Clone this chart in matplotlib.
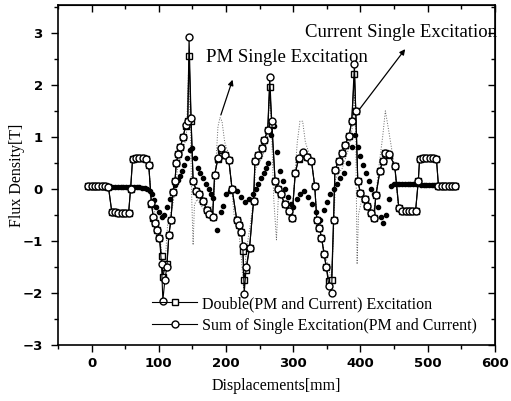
import matplotlib.pyplot as plt
from matplotlib.ticker import MultipleLocator, NullFormatter

# Double (PM and Current) excitation - squares
double_x = [-5, 0, 5, 10, 15, 20, 25, 30, 35, 40, 45, 50, 55, 58, 61, 66, 71, 76, 81, 85,
            89, 92, 95, 98, 101, 104, 106, 109, 112, 115, 118, 121, 124, 126, 129, 132, 136, 140, 143, 145, 148,
            151, 156, 160, 166, 171, 175, 180, 183, 188, 193, 198, 204, 209, 216, 220, 223, 225, 227, 230, 235, 241,
            243, 248, 253, 257, 262, 265, 268, 273, 278, 282, 287, 293, 298, 303, 308, 314, 320, 327,
            332, 335, 339, 342, 346, 349, 353, 357, 360, 362, 368, 373, 377, 383, 387, 391, 393,
            396, 400, 406, 410, 415, 420, 423, 429, 433, 437, 443, 451, 457, 462, 467, 472, 477, 482, 486,
            488, 493, 498, 503, 508, 513, 516, 521, 526, 531, 536, 541]
double_y = [0.05, 0.05, 0.06, 0.06, 0.05, 0.05, 0.04, -0.44, -0.45, -0.46, -0.46, -0.47, -0.47, 0.0, 0.58, 0.6, 0.6, 0.6, 0.58, 0.46,
            -0.3, -0.56, -0.66, -0.8, -0.95, -1.3, -1.7, -1.5, -1.45, -0.88, -0.6, -0.06, 0.15, 0.5, 0.68, 0.8, 1.0, 1.2, 1.3, 2.55, 1.3,
            0.15, -0.04, -0.1, -0.23, -0.4, -0.48, -0.55, 0.27, 0.58, 0.75, 0.66, 0.56, 0.0, -0.6, -0.7, -0.82, -1.2, -1.75, -1.56, -1.13, -0.23,
            0.54, 0.66, 0.79, 0.94, 1.13, 1.95, 1.25, 0.15, 0.0, -0.1, -0.3, -0.43, -0.56, 0.3, 0.58, 0.68, 0.62, 0.54,
            0.05, -0.6, -0.75, -0.94, -1.26, -1.5, -1.77, -1.75, -0.6, 0.37, 0.54, 0.69, 0.85, 1.02, 1.3, 2.2, 1.5,
            0.15, -0.08, -0.2, -0.33, -0.46, -0.56, -0.12, 0.35, 0.54, 0.69, 0.66, 0.44, -0.36, -0.42, -0.43, -0.43, -0.42, -0.42, 0.15,
            0.58, 0.6, 0.6, 0.6, 0.59, 0.58, 0.06, 0.05, 0.05, 0.05, 0.05, 0.05]

# Sum of single excitation (PM and Current) - circles
sum_x = double_x
sum_y = [0.05, 0.05, 0.06, 0.06, 0.05, 0.05, 0.04, -0.44, -0.45, -0.46, -0.46, -0.47, -0.47, 0.0, 0.58, 0.6, 0.6, 0.6, 0.58, 0.46,
         -0.28, -0.55, -0.66, -0.8, -0.95, -1.45, -2.15, -1.75, -1.5, -0.88, -0.6, -0.06, 0.15, 0.5, 0.68, 0.8, 1.0, 1.22, 1.3, 2.92, 1.37,
         0.15, -0.04, -0.1, -0.23, -0.4, -0.48, -0.55, 0.27, 0.6, 0.79, 0.66, 0.56, 0.0, -0.6, -0.7, -0.82, -1.1, -2.02, -1.5, -1.13, -0.23,
         0.54, 0.66, 0.79, 0.94, 1.13, 2.15, 1.3, 0.15, 0.0, -0.1, -0.3, -0.43, -0.56, 0.3, 0.6, 0.7, 0.62, 0.54,
         0.05, -0.6, -0.75, -0.94, -1.26, -1.5, -1.87, -2.0, -0.6, 0.37, 0.54, 0.69, 0.85, 1.02, 1.3, 2.4, 1.5,
         0.15, -0.08, -0.2, -0.33, -0.46, -0.56, -0.12, 0.35, 0.54, 0.69, 0.68, 0.44, -0.36, -0.42, -0.43, -0.43, -0.42, -0.42, 0.15,
         0.58, 0.6, 0.6, 0.6, 0.59, 0.58, 0.06, 0.05, 0.05, 0.05, 0.05, 0.05]

# PM single excitation - thin dotted line
pm_x = [85, 89, 93, 97, 101, 104, 107, 110, 113, 117, 121, 125, 129, 133, 137, 141, 144, 147, 149, 151, 153, 157,
        162, 167, 172, 177, 181, 184, 188, 191, 194, 198, 203, 207, 212, 217, 222, 226, 230, 236, 241, 244, 249,
        254, 258, 262, 265, 268, 271, 275, 278, 283, 288, 293, 298, 302, 306, 310, 314, 318, 323, 328, 332, 336,
        341, 346, 350, 354, 357, 360, 363, 368, 373, 378, 383, 388, 391, 393, 395, 397, 402, 408, 414, 419, 423,
        428, 433, 437, 441, 446, 451, 456]
pm_y = [0.45, -0.2, -0.4, -0.6, -0.8, -1.2, -1.6, -1.3, -0.7, -0.5, -0.3, 0.1, 0.5, 0.6, 0.8, 1.0, 2.2, 1.2, -0.2, -1.08, -0.3, -0.2,
        -0.3, -0.4, -0.45, -0.4, -0.3, 0.3, 1.2, 1.37, 1.3, 0.9, 0.7, 0.2, -0.5, -0.6, -1.2, -1.9, -1.2, -0.7, -0.2, 0.4, 0.5,
        0.6, 0.8, 1.0, 1.9, 1.0, -0.2, -0.98, -0.1, -0.15, -0.3, -0.4, -0.5, 0.2, 0.9, 1.3, 1.3, 0.9, 0.7, 0.5, 0.0, -0.6,
        -0.8, -1.2, -1.4, -1.6, -1.8, -0.8, 0.2, 0.3, 0.4, 0.6, 0.8, 1.2, 1.8, 1.0, -1.45, -0.5, -0.2, -0.3, -0.4, -0.5, -0.1,
        0.5, 1.0, 1.5, 1.2, 0.8, 0.4, -0.3]

# Current single excitation - black dots
cur_x = [-5, -1, 3, 7, 11, 15, 19, 23, 27, 31, 35, 39, 43, 47, 51, 55, 59, 63, 67, 71, 75, 79, 83, 87,
         90, 93, 96, 100, 104, 108, 112, 116, 120, 124, 128, 131, 134, 138, 142, 146, 150, 154, 158, 162, 166,
         170, 174, 178, 181, 186, 192, 196, 200, 206, 211, 216, 222, 228, 234, 240, 244, 248, 252, 256, 260, 263,
         267, 272, 276, 280, 284, 288, 292, 296, 300, 305, 310, 316, 322, 328, 334, 340, 346, 350, 355, 360, 365,
         370, 376, 382, 388, 392, 396, 400, 404, 408, 412, 416, 420, 426, 430, 434, 438, 442, 446, 450,
         454, 458, 462, 466, 470, 474, 478, 482, 486, 490, 494, 498, 502, 506, 510, 514, 518, 522, 526, 530, 534, 538, 542]
cur_y = [0.03, 0.03, 0.03, 0.04, 0.04, 0.04, 0.03, 0.03, 0.03, 0.03, 0.03, 0.03, 0.03, 0.03, 0.03, 0.03, 0.03, 0.03, 0.03, 0.03, 0.02, 0.02, 0.0, -0.04,
         -0.1, -0.22, -0.35, -0.45, -0.55, -0.5, -0.35, -0.2, -0.05, 0.08, 0.18, 0.25, 0.35, 0.45, 0.6, 0.75, 0.79, 0.6, 0.4, 0.3, 0.2,
         0.1, 0.0, -0.1, -0.17, -0.8, -0.45, -0.33, -0.1, -0.05, 0.02, -0.05, -0.15, -0.25, -0.2, -0.1, 0.0, 0.1, 0.2, 0.3, 0.4, 0.5,
         1.04, 1.2, 0.7, 0.35, 0.15, 0.0, -0.15, -0.3, -0.35, -0.2, -0.1, -0.05, -0.15, -0.3, -0.45, -0.6, -0.4, -0.25, -0.1, 0.0, 0.1,
         0.2, 0.3, 0.5, 0.8, 1.04, 0.8, 0.63, 0.45, 0.3, 0.15, 0.0, -0.1, -0.35, -0.55, -0.65, -0.5, -0.2, 0.05, 0.1,
         0.1, 0.1, 0.1, 0.09, 0.09, 0.09, 0.09, 0.09, 0.09, 0.08, 0.08, 0.08, 0.08, 0.08, 0.08, 0.08, 0.08, 0.08, 0.08, 0.08, 0.08, 0.08, 0.08]

serif = ['Liberation Serif', 'DejaVu Serif']
tickfont = ['Liberation Sans Narrow', 'DejaVu Sans']

fig = plt.figure(figsize=(5.11, 4.01), dpi=100)
ax = fig.add_axes([0.1135, 0.14, 0.855, 0.848])

ax.plot(pm_x, pm_y, color='0.4', linestyle=':', linewidth=0.7, zorder=1)
ax.plot(cur_x, cur_y, linestyle='none', marker='o', markersize=3, color='black', zorder=2)
ax.plot(double_x, double_y, color='black', linewidth=0.8, marker='s', markersize=4.5,
        markerfacecolor='white', markeredgecolor='black', markeredgewidth=1.0, zorder=3,
        label='Double(PM and Current) Excitation')
ax.plot(sum_x, sum_y, color='black', linewidth=0.8, marker='o', markersize=5,
        markerfacecolor='white', markeredgecolor='black', markeredgewidth=1.0, zorder=4,
        label='Sum of Single Excitation(PM and Current)')

ax.set_xlim(-50, 600)
ax.set_ylim(-3, 3.54)
ax.xaxis.set_major_locator(MultipleLocator(100))
ax.xaxis.set_minor_locator(MultipleLocator(50))
ax.yaxis.set_major_locator(MultipleLocator(1))
ax.yaxis.set_minor_locator(MultipleLocator(0.5))
ax.tick_params(which='both', direction='out', width=1, labelsize=9.5)
ax.tick_params(which='major', length=5)
ax.tick_params(which='minor', length=3)
ax.tick_params(axis='y', pad=6)
for lab in ax.get_xticklabels() + ax.get_yticklabels():
    lab.set_family(tickfont)
    lab.set_weight('bold')

# top and right axes with inward ticks
top = ax.secondary_xaxis('top')
top.xaxis.set_major_locator(MultipleLocator(100))
top.xaxis.set_minor_locator(MultipleLocator(50))
top.tick_params(which='both', direction='in', width=1)
top.tick_params(which='major', length=5)
top.tick_params(which='minor', length=3)
top.xaxis.set_major_formatter(NullFormatter())
right = ax.secondary_yaxis('right')
right.yaxis.set_major_locator(MultipleLocator(1))
right.yaxis.set_minor_locator(MultipleLocator(0.5))
right.tick_params(which='both', direction='in', width=1)
right.tick_params(which='major', length=5)
right.tick_params(which='minor', length=3)
right.yaxis.set_major_formatter(NullFormatter())

for s in ax.spines.values():
    s.set_linewidth(1.2)

ax.set_xlabel('Displacements[mm]', family=serif, fontsize=11.5, labelpad=6)
ax.set_ylabel('Flux Density[T]', family=serif, fontsize=11.5, labelpad=-2)

ax.text(291, 2.52, 'PM Single Excitation', family=serif, fontsize=13.5, ha='center', va='center')
ax.text(461, 3.0, 'Current Single Excitation', family=serif, fontsize=13.5, ha='center', va='center')
ax.annotate('', xy=(211, 2.15), xytext=(191, 1.37),
            arrowprops=dict(arrowstyle='-|>', color='black', lw=0.9, mutation_scale=8))
ax.annotate('', xy=(469, 2.73), xytext=(392, 1.42),
            arrowprops=dict(arrowstyle='-|>', color='black', lw=0.9, mutation_scale=8))

ax.legend(loc='lower left', bbox_to_anchor=(0.19, 0.0), frameon=False,
          prop={'family': serif, 'size': 11.5}, handlelength=2.8, handletextpad=0.3,
          labelspacing=0.35, borderaxespad=0.3)

fig.savefig('out.png', dpi=100)
